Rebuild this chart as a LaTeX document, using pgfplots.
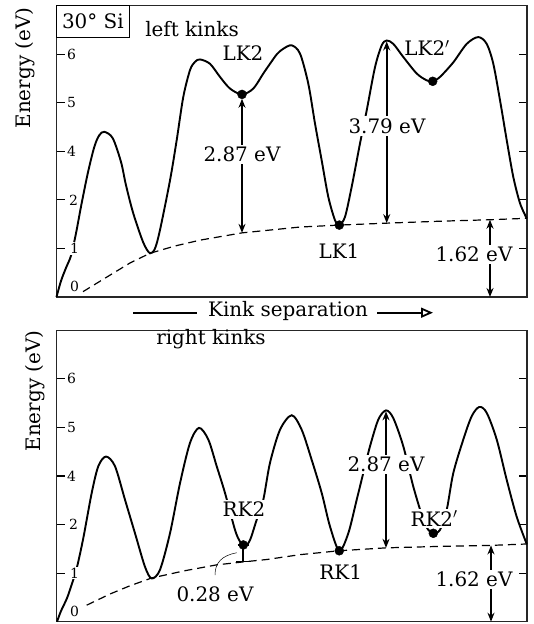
\documentclass[border=0pt]{standalone}
\usepackage{pgfplots}
\pgfplotsset{compat=1.18}
\usepackage{fontspec}
\setmainfont{DejaVu Serif}
\usetikzlibrary{arrows.meta}

\newcommand{\lab}{\fontsize{20}{20}\selectfont}
\newcommand{\tlab}{\fontsize{14}{14}\selectfont}

\pgfplotsset{kinkax/.style={
  scale only axis, width=470.5bp, height=291.5bp,
  anchor=south west,
  xmin=56.5, xmax=527, ymin=0, ymax=6,
  xtick=\empty, ytick={0,1,2,3,4,5}, yticklabels={},
  tick align=inside, major tick length=8bp,
  axis line style={line width=1.1bp, black!85},
  every tick/.style={line width=1.1bp, black},
  clip=false,
}}
\tikzset{
  curve/.style={line width=1.9bp, black, smooth},
  base/.style={line width=1.2bp, black, dash pattern=on 8bp off 5bp},
  dar/.style={line width=1.8bp, {Stealth[length=9bp,width=7bp]}-{Stealth[length=9bp,width=7bp]}},
  lbl/.style={font=\lab, anchor=base, inner sep=2bp},
  wlbl/.style={font=\lab, anchor=base, inner sep=2bp, fill=white},
  tl/.style={font=\tlab, anchor=west, fill=white, inner sep=1bp},
}
\newcommand{\ticklabs}{%
  \node[tl] at (66,3) {4};
  \node[tl] at (66,4) {5};
  \node[tl] at (66,5) {6};
  \node[tl] at (68,2) {2};
  \node[tl] at (69,1) {1};
  \node[tl] at (69,0.22) {0};
}

\begin{document}
\begin{tikzpicture}
\useasboundingbox (0,0) rectangle (534bp,624bp);

% ---------------- top panel: left kinks ----------------
\begin{axis}[kinkax, at={(56.5bp,327bp)}]
\addplot[base] coordinates {(83,0.11) (110,0.45) (130,0.70) (150,0.90) (175,1.05) (200,1.17) (242,1.32) (300,1.44) (339,1.48) (387,1.52) (440,1.56) (490,1.59) (527,1.62)};
\addplot[curve] coordinates {(56.5,0.0) (61,0.33) (66,0.60) (71,0.85) (76,1.31) (81,1.86) (87.7,2.54) (94.3,3.09) (99.3,3.33) (104.3,3.40) (112.7,3.27) (121,2.78) (126,2.30) (133.3,1.72) (143.3,1.12) (150,0.90) (155,1.0) (160,1.38) (170,2.40) (176.7,3.23) (183.3,4.12) (190,4.67) (195,4.84) (200,4.89) (210,4.80) (220,4.53) (230,4.29) (242,4.17) (253.3,4.29) (263.3,4.60) (270,4.80) (277,5.0) (283.3,5.11) (291.7,5.18) (300,5.01) (308.3,4.39) (315,3.57) (321.7,2.81) (328.3,2.06) (335,1.58) (339.3,1.48) (345,1.65) (351.7,2.27) (360,3.16) (366.7,3.84) (375,4.73) (381.7,5.18) (386.7,5.28) (393.3,5.21) (403.3,4.94) (416.7,4.60) (426.7,4.46) (432.7,4.44) (440,4.53) (453.3,4.83) (466.7,5.21) (478.3,5.35) (486.7,5.21) (493.3,4.80) (500,4.05) (506.7,3.23) (513.3,2.47) (520,1.93) (526.7,1.62)};
\addplot[only marks, mark=*, mark size=4.5bp, black] coordinates {(242,4.17) (339.3,1.48) (432.7,4.44)};
\ticklabs
\draw[dar] (242,4.08) -- (242,1.32);
\node[wlbl] at (242,2.78) {2.87 eV};
\draw[dar] (386.7,5.26) -- (386.7,1.52);
\node[wlbl] at (387,3.37) {3.79 eV};
\draw[dar] (490,1.59) -- (490,0);
\node[wlbl] at (474,0.73) {1.62 eV};
\node[lbl] at (243,4.87) {LK2};
\node[lbl] at (339,0.80) {LK1};
\node[lbl] at (427,4.97) {LK2$'$};
\node[lbl] at (192,5.36) {left kinks};
\draw[line width=0.8bp, fill=white] (56.5,5.34) rectangle (129.3,6);
\node[lbl] at (92.9,5.53) {30° Si};
\end{axis}

% axis label / kink separation arrow
\node[font=\lab, rotate=90] at (25bp,556bp) {Energy (eV)};
\draw[line width=1.8bp] (133bp,311.3bp) -- (197bp,311.3bp);
\node[font=\lab, anchor=base] at (288bp,307.3bp) {Kink separation};
\draw[line width=1.8bp, -{Triangle[open, length=12bp, width=10bp]}] (377bp,311.3bp) -- (433bp,311.3bp);

% ---------------- bottom panel: right kinks ----------------
\begin{axis}[kinkax, at={(56.5bp,2.3bp)}]
\addplot[base] coordinates {(86.7,0.34) (110,0.57) (130,0.74) (151.7,0.90) (185,1.05) (216.7,1.17) (243,1.23) (266.7,1.28) (300,1.38) (339,1.46) (386,1.52) (440,1.55) (490,1.57) (527,1.60)};
\addplot[curve] coordinates {(57,0.0) (61,0.22) (66.7,0.47) (71,0.72) (76.7,1.1) (83.3,1.72) (91.7,2.65) (98.3,3.20) (106,3.40) (115,3.20) (125,2.51) (135,1.82) (145,1.13) (151.7,0.89) (160,1.07) (170,1.82) (180,2.85) (190,3.68) (199,3.99) (208.3,3.75) (216.7,3.20) (225,2.65) (235,1.89) (240,1.65) (245,1.56) (250,1.68) (256.7,2.10) (263.3,2.51) (270,3.27) (280,3.95) (291.7,4.25) (301.7,3.95) (311.7,3.33) (321.7,2.65) (330,1.96) (339.3,1.46) (348.3,1.82) (356.7,2.51) (363.3,3.06) (370,3.61) (378.3,4.16) (386,4.35) (393.3,4.19) (403.3,3.61) (413.3,2.78) (423.3,2.10) (428.3,1.89) (433.3,1.82) (440,1.89) (446.7,2.30) (453.3,3.06) (463.3,3.75) (471.7,4.23) (479.3,4.42) (486.7,4.30) (496.7,3.75) (506.7,2.92) (516.7,2.16) (526.7,1.60)};
\addplot[only marks, mark=*, mark size=4.5bp, black] coordinates {(243.3,1.58) (339.3,1.46) (433.3,1.82)};
\ticklabs
\draw[line width=1.8bp] (243.3,1.58) -- (243.3,1.24);
\draw[line width=1.8bp] (237.5,1.58) -- (249.3,1.58);
\draw[line width=1.8bp] (236,1.24) -- (250,1.24);
\draw[line width=0.5bp] (236.7,1.42) .. controls (222,1.36) and (215,1.22) .. (215,0.96);
\draw[dar] (386,4.33) -- (386,1.52);
\node[wlbl] at (386,3.09) {2.87 eV};
\draw[dar] (491,1.57) -- (491,0);
\node[wlbl] at (474,0.72) {1.62 eV};
\node[wlbl] at (244,2.16) {RK2};
\node[lbl] at (340.7,0.86) {RK1};
\node[wlbl] at (434,1.96) {RK2$'$};
\node[lbl] at (211,5.70) {right kinks};
\node[lbl] at (215,0.41) {0.28 eV};
\end{axis}
\node[font=\lab, rotate=90] at (35bp,233bp) {Energy (eV)};
\end{tikzpicture}
\end{document}
